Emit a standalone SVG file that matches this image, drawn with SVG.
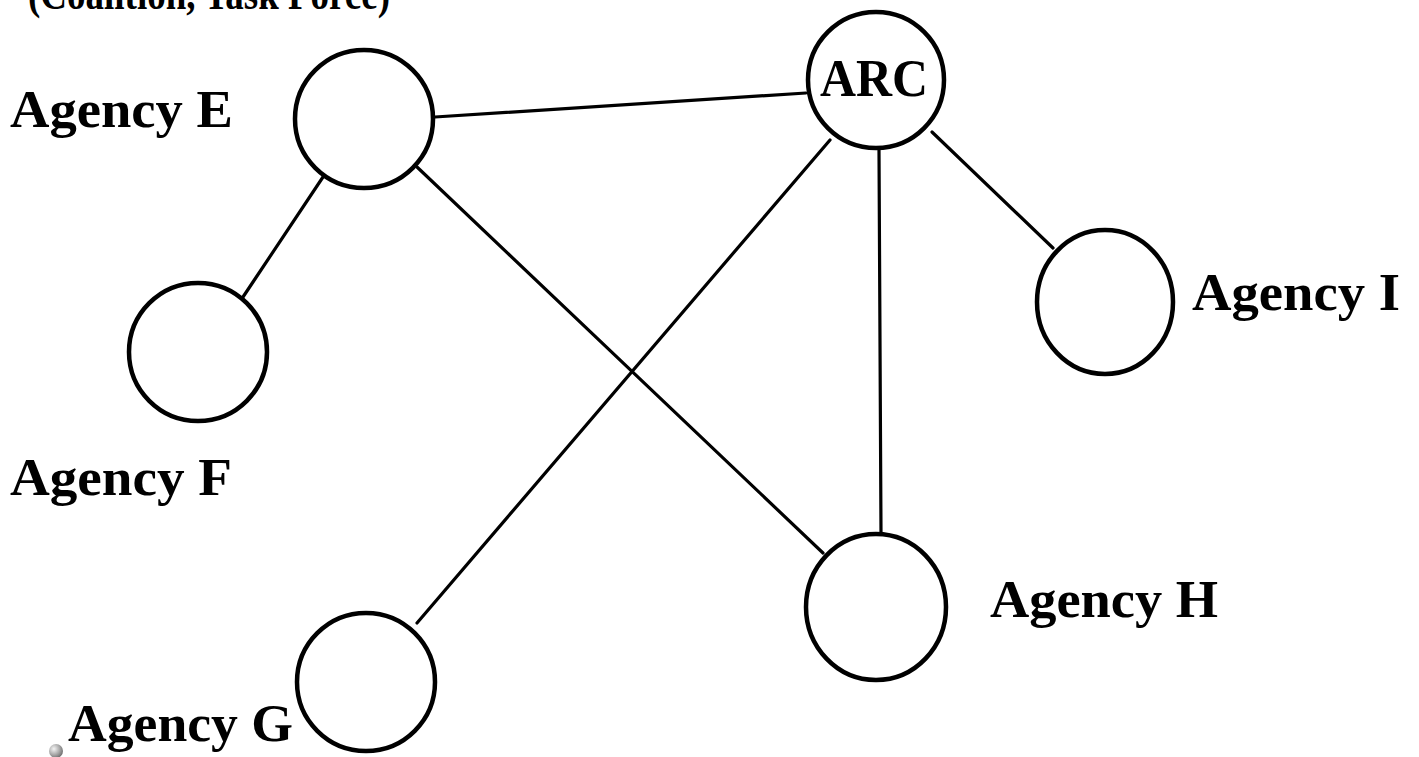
<svg xmlns="http://www.w3.org/2000/svg" width="1419" height="757" viewBox="0 0 1419 757">
  <defs>
    <radialGradient id="ballShade" cx="0.35" cy="0.35" r="0.7">
      <stop offset="0" stop-color="#f4f4f4"/>
      <stop offset="0.6" stop-color="#a8a8a8"/>
      <stop offset="1" stop-color="#6e6e6e"/>
    </radialGradient>
  </defs>
  <style>
    .node { fill: #ffffff; stroke: #000000; stroke-width: 4.5; }
    .edge { stroke: #000000; stroke-width: 3.2; fill: none; stroke-linecap: round; }
    .label { font-family: "Liberation Serif", "DejaVu Serif", serif; font-weight: bold; font-size: 52px; fill: #000000; }
    .caption { font-family: "Liberation Serif", "DejaVu Serif", serif; font-weight: bold; font-size: 44px; fill: #000000; }
  </style>
  <rect width="1419" height="757" fill="#ffffff"/>

  <text class="caption" x="28" y="9" textLength="362" lengthAdjust="spacingAndGlyphs">(Coalition, Task Force)</text>

  <g id="connectors">
    <line class="edge" x1="435" y1="117" x2="806" y2="93"/>
    <line class="edge" x1="323" y1="177" x2="243" y2="297"/>
    <line class="edge" x1="417" y1="167" x2="823" y2="553"/>
    <line class="edge" x1="830" y1="140" x2="417" y2="623"/>
    <line class="edge" x1="879" y1="150" x2="881" y2="533"/>
    <line class="edge" x1="932" y1="132" x2="1053" y2="248"/>
  </g>

  <g id="node-arc">
    <circle class="node" cx="876" cy="80" r="68"/>
    <text class="label" x="820" y="96" textLength="108" lengthAdjust="spacingAndGlyphs">ARC</text>
  </g>
  <g id="node-agency-e">
    <circle class="node" cx="364" cy="119" r="69"/>
    <text class="label" x="10" y="127" textLength="223" lengthAdjust="spacingAndGlyphs">Agency E</text>
  </g>
  <g id="node-agency-f">
    <circle class="node" cx="198" cy="352" r="69"/>
    <text class="label" x="10" y="495" textLength="222" lengthAdjust="spacingAndGlyphs">Agency F</text>
  </g>
  <g id="node-agency-g">
    <circle class="node" cx="366" cy="682" r="69"/>
    <text class="label" x="68" y="741" textLength="225" lengthAdjust="spacingAndGlyphs">Agency G</text>
  </g>
  <g id="node-agency-h">
    <ellipse class="node" cx="876" cy="607" rx="70" ry="73"/>
    <text class="label" x="990" y="617" textLength="228" lengthAdjust="spacingAndGlyphs">Agency H</text>
  </g>
  <g id="node-agency-i">
    <ellipse class="node" cx="1105" cy="302" rx="68" ry="72"/>
    <text class="label" x="1192" y="310" textLength="208" lengthAdjust="spacingAndGlyphs">Agency I</text>
  </g>

  <circle cx="56" cy="751" r="7" fill="url(#ballShade)"/>
</svg>
